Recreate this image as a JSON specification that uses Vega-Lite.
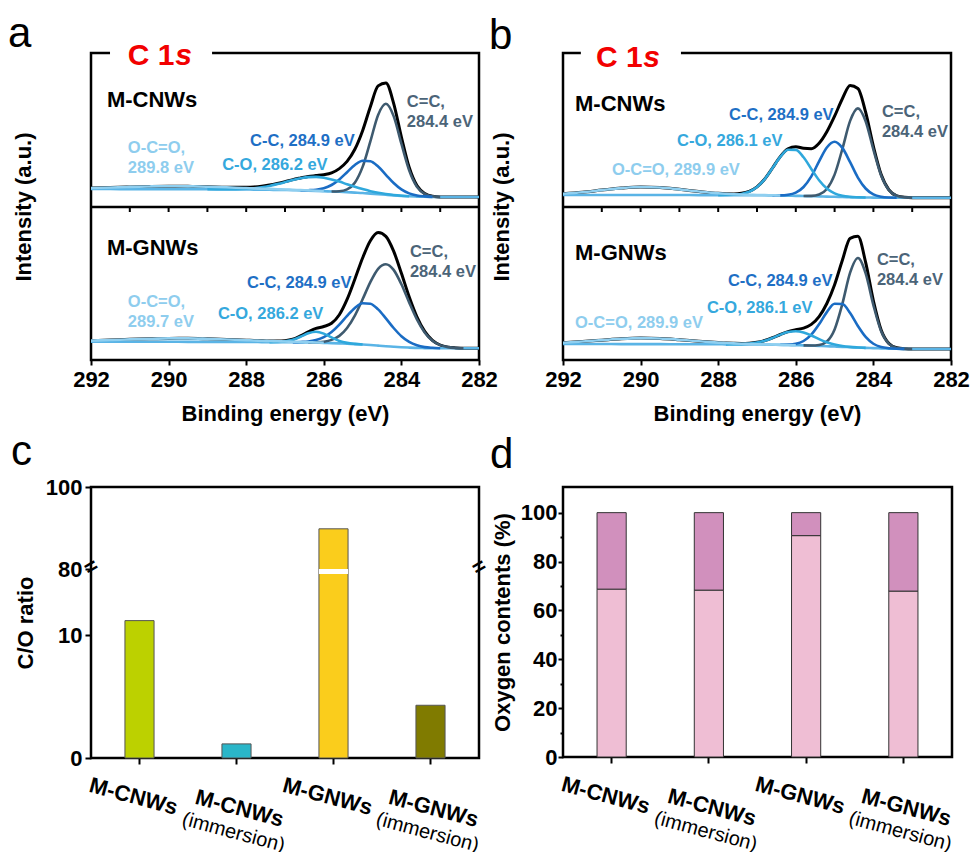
{
"$schema": "https://vega.github.io/schema/vega-lite/v6.json",
"padding": {"left": 6, "top": 11, "right": 4, "bottom": 4},
"background": "white",
"config": {
  "font": "Liberation Sans",
  "view": {"stroke": "black", "strokeWidth": 2.5},
  "axis": {"grid": false, "domain": false, "labelColor": "black", "titleColor": "black", "tickColor": "black", "tickWidth": 2, "labelFontWeight": "bold", "labelFontSize": 22, "titleFontSize": 22, "titleFontWeight": "bold", "labelFont": "Liberation Sans", "titleFont": "Liberation Sans"},
  "title": {"font": "Liberation Sans", "fontSize": 42, "fontWeight": "normal", "anchor": "start", "frame": "group", "color": "black"},
  "text": {"font": "Liberation Sans"}
},
"datasets": {
  "a1": [
    {"e":282.0,"bg":10,"env":10},{"e":282.2,"bg":10,"env":10},{"e":282.4,"bg":10,"env":10},{"e":282.6,"bg":10,"env":10},{"e":282.8,"bg":10,"env":10},
    {"e":283.0,"bg":10,"env":10,"sp2":10},
    {"e":283.2,"bg":10.1,"env":10.7,"sp2":10.7,"sp3":10.1},
    {"e":283.4,"bg":10.2,"env":13.5,"sp2":13.1,"sp3":10.6},
    {"e":283.6,"bg":10.4,"env":21.4,"sp2":20.3,"sp3":11.5},
    {"e":283.8,"bg":10.7,"env":39.7,"sp2":36.8,"sp3":13.6,"co":10.8},
    {"e":284.0,"bg":11.1,"env":70.0,"sp2":63.3,"sp3":17.6,"co":11.3},
    {"e":284.2,"bg":11.6,"env":103.7,"sp2":90.9,"sp3":24.0,"co":12.0},
    {"e":284.4,"bg":12.2,"env":124.0,"sp2":103.2,"sp3":32.2,"co":13.0},
    {"e":284.6,"bg":12.8,"env":121.1,"sp2":92.1,"sp3":40.4,"co":14.2},
    {"e":284.8,"bg":13.4,"env":100.3,"sp2":65.6,"sp3":45.7,"co":15.8},
    {"e":285.0,"bg":14.0,"env":76.3,"sp2":40.1,"sp3":46.3,"co":17.9},
    {"e":285.2,"bg":14.4,"env":57.7,"sp2":24.3,"sp3":42.0,"co":20.2},
    {"e":285.4,"bg":14.8,"env":45.6,"sp2":17.7,"sp3":34.8,"co":22.7},
    {"e":285.6,"bg":15.2,"env":38.4,"sp2":15.8,"sp3":27.6,"co":25.4},
    {"e":285.8,"bg":15.5,"env":34.1,"sp2":15.5,"sp3":22.0,"co":27.6},
    {"e":286.0,"bg":15.8,"env":32.3,"sp3":18.7,"co":29.3,"occo":15.9},
    {"e":286.2,"bg":16.1,"env":31.4,"sp3":17.2,"co":30.1,"occo":16.3},
    {"e":286.4,"bg":16.4,"env":30.5,"sp3":16.8,"co":29.9,"occo":16.6},
    {"e":286.6,"bg":16.6,"env":29.0,"sp3":16.6,"co":28.7,"occo":16.9},
    {"e":286.8,"bg":16.8,"env":27.4,"co":27.0,"occo":17.2},
    {"e":287.0,"bg":17.0,"env":25.4,"co":24.9,"occo":17.5},
    {"e":287.2,"bg":17.1,"env":23.6,"co":22.9,"occo":17.8},
    {"e":287.4,"bg":17.2,"env":22.0,"co":21.1,"occo":18.1},
    {"e":287.6,"bg":17.3,"env":20.7,"co":19.7,"occo":18.3},
    {"e":287.8,"bg":17.4,"env":20.0,"co":18.8,"occo":18.6},
    {"e":288.0,"bg":17.5,"env":19.8,"co":18.3,"occo":19.0},
    {"e":288.5,"bg":17.6,"env":19.8,"co":17.7,"occo":19.7},
    {"e":289.0,"bg":17.7,"env":20.3,"co":17.7,"occo":20.3},
    {"e":289.5,"bg":17.75,"env":20.65,"occo":20.65},
    {"e":290.0,"bg":17.8,"env":20.8,"occo":20.8},
    {"e":290.5,"bg":17.85,"env":20.55,"occo":20.55},
    {"e":291.0,"bg":17.9,"env":20.1,"occo":20.1},
    {"e":291.5,"bg":17.95,"env":19.55,"occo":19.55},
    {"e":292.0,"bg":18.0,"env":19.0,"occo":19.0}
  ],
  "a2": [
    {"e":282.0,"bg":11.7,"env":11.7},{"e":282.2,"bg":11.7,"env":11.7},
    {"e":282.4,"bg":11.7,"env":11.7,"sp2":11.7},
    {"e":282.6,"bg":11.7,"env":12.1,"sp2":12.1},
    {"e":282.8,"bg":11.7,"env":12.9,"sp2":12.9},
    {"e":283.0,"bg":11.7,"env":15.0,"sp2":14.9,"sp3":11.8},
    {"e":283.2,"bg":11.8,"env":19.7,"sp2":19.3,"sp3":12.2},
    {"e":283.4,"bg":11.9,"env":28.6,"sp2":27.6,"sp3":12.9},
    {"e":283.6,"bg":12.1,"env":43.2,"sp2":40.6,"sp3":14.7},
    {"e":283.8,"bg":12.4,"env":63.3,"sp2":57.6,"sp3":18.1},
    {"e":284.0,"bg":12.8,"env":86.7,"sp2":75.7,"sp3":23.8},
    {"e":284.2,"bg":13.3,"env":108.8,"sp2":90.1,"sp3":32.0},
    {"e":284.4,"bg":13.8,"env":123.6,"sp2":95.8,"sp3":41.6},
    {"e":284.6,"bg":14.4,"env":127.4,"sp2":91.2,"sp3":50.6},
    {"e":284.8,"bg":15.0,"env":119.2,"sp2":77.9,"sp3":56.3},
    {"e":285.0,"bg":15.5,"env":102.0,"sp2":60.7,"sp3":56.8,"co":15.5},
    {"e":285.2,"bg":15.9,"env":80.8,"sp2":44.4,"sp3":52.1,"co":16.1},
    {"e":285.4,"bg":16.3,"env":60.6,"sp2":32.0,"sp3":44.1,"co":17.1},
    {"e":285.6,"bg":16.6,"env":45.3,"sp2":24.1,"sp3":35.3,"co":19.1},
    {"e":285.8,"bg":16.9,"env":36.8,"sp2":20.1,"sp3":27.9,"co":22.6},
    {"e":286.0,"bg":17.1,"env":33.5,"sp2":18.3,"sp3":22.8,"co":26.4,"occo":17.3},
    {"e":286.2,"bg":17.3,"env":31.55,"sp2":17.7,"sp3":19.9,"co":28.3,"occo":17.55},
    {"e":286.4,"bg":17.45,"env":28.05,"sp2":17.45,"sp3":18.45,"co":26.75,"occo":17.75},
    {"e":286.6,"bg":17.6,"env":24.1,"sp3":18.0,"co":23.3,"occo":18.0},
    {"e":286.8,"bg":17.7,"env":20.75,"sp3":17.7,"co":20.2,"occo":18.25},
    {"e":287.0,"bg":17.8,"env":19.3,"co":18.6,"occo":18.5},
    {"e":287.2,"bg":17.84,"env":18.94,"co":18.04,"occo":18.74},
    {"e":287.4,"bg":17.88,"env":18.98,"co":17.88,"occo":18.98},
    {"e":287.6,"bg":17.92,"env":19.22,"occo":19.22},
    {"e":287.8,"bg":17.96,"env":19.56,"occo":19.56},
    {"e":288.0,"bg":18.0,"env":19.8,"occo":19.8},
    {"e":288.5,"bg":18.05,"env":20.55,"occo":20.55},
    {"e":289.0,"bg":18.1,"env":21.2,"occo":21.2},
    {"e":289.5,"bg":18.15,"env":21.65,"occo":21.65},
    {"e":290.0,"bg":18.2,"env":21.6,"occo":21.6},
    {"e":290.5,"bg":18.22,"env":21.22,"occo":21.22},
    {"e":291.0,"bg":18.25,"env":20.65,"occo":20.65},
    {"e":291.5,"bg":18.27,"env":19.97,"occo":19.97},
    {"e":292.0,"bg":18.3,"env":19.4,"occo":19.4}
  ],
  "b1": [
    {"e":282.0,"bg":9.3,"env":9.3},{"e":282.2,"bg":9.3,"env":9.3},{"e":282.4,"bg":9.3,"env":9.3},{"e":282.6,"bg":9.3,"env":9.3},{"e":282.8,"bg":9.3,"env":9.3},
    {"e":283.0,"bg":9.3,"env":9.3,"sp2":9.3},
    {"e":283.2,"bg":9.3,"env":9.65,"sp2":9.65},
    {"e":283.4,"bg":9.3,"env":11.2,"sp2":11.2,"sp3":9.3},
    {"e":283.6,"bg":9.3,"env":17.1,"sp2":16.9,"sp3":9.5},
    {"e":283.8,"bg":9.35,"env":32.45,"sp2":31.55,"sp3":10.25},
    {"e":284.0,"bg":9.4,"env":60.6,"sp2":57.4,"sp3":12.6},
    {"e":284.2,"bg":9.5,"env":94.8,"sp2":85.8,"sp3":18.5,"co":9.5},
    {"e":284.4,"bg":9.65,"env":118.55,"sp2":98.65,"sp3":29.45,"co":9.75},
    {"e":284.6,"bg":9.8,"env":121.46,"sp2":86.1,"sp3":44.8,"co":10.16},
    {"e":284.8,"bg":10.0,"env":108.3,"sp2":58.0,"sp3":59.1,"co":11.2},
    {"e":285.0,"bg":10.2,"env":90.8,"sp2":32.4,"sp3":65.2,"co":13.6},
    {"e":285.2,"bg":10.4,"env":75.2,"sp2":18.0,"sp3":59.5,"co":18.5},
    {"e":285.4,"bg":10.6,"env":63.7,"sp2":12.5,"sp3":45.6,"co":26.8},
    {"e":285.6,"bg":10.8,"env":58.25,"sp2":11.15,"sp3":30.6,"co":38.1},
    {"e":285.8,"bg":11.0,"env":58.7,"sp2":11.0,"sp3":20.0,"co":49.7},
    {"e":286.0,"bg":11.15,"env":60.35,"sp3":14.35,"co":57.15},
    {"e":286.2,"bg":11.3,"env":58.2,"sp3":12.2,"co":57.3},
    {"e":286.4,"bg":11.45,"env":50.4,"sp3":11.65,"co":50.15,"occo":11.5},
    {"e":286.6,"bg":11.6,"env":39.0,"sp3":11.6,"co":38.9,"occo":11.7},
    {"e":286.8,"bg":11.7,"env":28.05,"co":27.9,"occo":11.85},
    {"e":287.0,"bg":11.8,"env":20.15,"co":19.9,"occo":12.05},
    {"e":287.2,"bg":11.82,"env":15.62,"co":15.22,"occo":12.22},
    {"e":287.4,"bg":11.84,"env":13.64,"co":13.04,"occo":12.44},
    {"e":287.6,"bg":11.86,"env":13.12,"co":12.22,"occo":12.76},
    {"e":287.8,"bg":11.88,"env":13.28,"co":11.98,"occo":13.18},
    {"e":288.0,"bg":11.9,"env":13.7,"co":11.9,"occo":13.7},
    {"e":288.5,"bg":11.92,"env":15.52,"occo":15.52},
    {"e":289.0,"bg":11.94,"env":17.64,"occo":17.64},
    {"e":289.5,"bg":11.96,"env":19.46,"occo":19.46},
    {"e":290.0,"bg":11.97,"env":19.97,"occo":19.97},
    {"e":290.5,"bg":11.98,"env":18.88,"occo":18.88},
    {"e":291.0,"bg":11.99,"env":16.89,"occo":16.89},
    {"e":291.5,"bg":12.0,"env":14.8,"occo":14.8},
    {"e":292.0,"bg":12.0,"env":13.3,"occo":13.3}
  ],
  "b2": [
    {"e":282.0,"bg":11,"env":11},{"e":282.2,"bg":11,"env":11},{"e":282.4,"bg":11,"env":11},{"e":282.6,"bg":11,"env":11},{"e":282.8,"bg":11,"env":11},
    {"e":283.0,"bg":11.0,"env":11.0,"sp2":11.0},
    {"e":283.2,"bg":11.1,"env":11.2,"sp2":11.2,"sp3":11.1},
    {"e":283.4,"bg":11.2,"env":12.17,"sp2":12.1,"sp3":11.27},
    {"e":283.6,"bg":11.4,"env":16.5,"sp2":16.1,"sp3":11.8},
    {"e":283.8,"bg":11.6,"env":30.1,"sp2":28.7,"sp3":13.0},
    {"e":284.0,"bg":11.85,"env":59.25,"sp2":54.85,"sp3":16.25},
    {"e":284.2,"bg":12.1,"env":97.6,"sp2":86.6,"sp3":23.1,"co":12.1},
    {"e":284.4,"bg":12.45,"env":123.65,"sp2":101.95,"sp3":34.05,"co":12.55},
    {"e":284.6,"bg":12.8,"env":121.7,"sp2":87.3,"sp3":46.9,"co":13.1},
    {"e":284.8,"bg":13.15,"env":99.75,"sp2":56.15,"sp3":55.95,"co":13.95},
    {"e":285.0,"bg":13.5,"env":75.3,"sp2":30.6,"sp3":56.3,"co":15.4},
    {"e":285.2,"bg":13.8,"env":56.5,"sp2":18.5,"sp3":47.9,"co":17.7},
    {"e":285.4,"bg":14.1,"env":43.4,"sp2":15.0,"sp3":35.7,"co":20.9},
    {"e":285.6,"bg":14.35,"env":35.65,"sp2":14.45,"sp3":25.35,"co":24.55},
    {"e":285.8,"bg":14.6,"env":31.9,"sp2":14.6,"sp3":19.0,"co":27.5},
    {"e":286.0,"bg":14.8,"env":30.2,"sp3":16.2,"co":28.8,"occo":14.8},
    {"e":286.2,"bg":15.0,"env":28.35,"sp3":15.4,"co":27.9,"occo":15.05},
    {"e":286.4,"bg":15.15,"env":25.5,"sp3":15.2,"co":25.35,"occo":15.25},
    {"e":286.6,"bg":15.3,"env":22.25,"co":22.1,"occo":15.45},
    {"e":286.8,"bg":15.4,"env":19.5,"co":19.3,"occo":15.6},
    {"e":287.0,"bg":15.5,"env":17.7,"co":17.4,"occo":15.8},
    {"e":287.2,"bg":15.54,"env":16.84,"co":16.34,"occo":16.04},
    {"e":287.4,"bg":15.58,"env":16.58,"co":15.88,"occo":16.28},
    {"e":287.6,"bg":15.62,"env":16.72,"co":15.72,"occo":16.62},
    {"e":287.8,"bg":15.66,"env":16.96,"co":15.66,"occo":16.96},
    {"e":288.0,"bg":15.7,"env":17.4,"occo":17.4},
    {"e":288.5,"bg":15.75,"env":18.75,"occo":18.75},
    {"e":289.0,"bg":15.8,"env":20.3,"occo":20.3},
    {"e":289.5,"bg":15.85,"env":21.55,"occo":21.55},
    {"e":290.0,"bg":15.9,"env":21.9,"occo":21.9},
    {"e":290.5,"bg":15.92,"env":21.22,"occo":21.22},
    {"e":291.0,"bg":15.95,"env":19.85,"occo":19.85},
    {"e":291.5,"bg":15.97,"env":18.47,"occo":18.47},
    {"e":292.0,"bg":16.0,"env":17.3,"occo":17.3}
  ],
  "ticks": [{"t":282},{"t":283},{"t":284},{"t":285},{"t":286},{"t":287},{"t":288},{"t":289},{"t":290},{"t":291},{"t":292}],
  "c": [
    {"s":"M-CNWs","r":11.2},
    {"s":"M-CNWs (immersion)","r":1.15},
    {"s":"M-GNWs","r":89.8},
    {"s":"M-GNWs (immersion)","r":4.3}
  ],
  "d": [
    {"s":"M-CNWs","part":"lower","v":68.7},{"s":"M-CNWs","part":"upper","v":31.3},
    {"s":"M-CNWs (immersion)","part":"lower","v":68.3},{"s":"M-CNWs (immersion)","part":"upper","v":31.7},
    {"s":"M-GNWs","part":"lower","v":90.6},{"s":"M-GNWs","part":"upper","v":9.4},
    {"s":"M-GNWs (immersion)","part":"lower","v":67.9},{"s":"M-GNWs (immersion)","part":"upper","v":32.1}
  ]
},
"concat": [
  {
    "width": 388, "height": 307,
    "title": {"text": "a", "dx": -83, "dy": 15, "offset": 0},
    "layer": [
      {"data": {"name": "a1"}, "transform": [{"fold": ["env","bg","sp2","sp3","co","occo"], "as": ["k","v"]}, {"filter": "isValid(datum.v) && datum.k == 'env'"}], "mark": {"type": "line", "color": "#000000", "strokeWidth": 3, "interpolate": "monotone"},
       "encoding": {"x": {"field": "e", "type": "quantitative", "scale": {"domain": [282, 292], "reverse": true, "nice": false, "zero": false}, "axis": {"orient": "bottom", "values": [282,283,284,285,286,287,288,289,290,291,292], "labelExpr": "datum.value % 2 === 0 ? datum.label : ''", "tickSize": 5, "tickWidth": 2, "domain": false, "grid": false, "labelPadding": 4, "labelFlush": false, "labelOverlap": false, "labelBound": false, "title": "Binding energy (eV)", "titlePadding": 13}},
                    "y": {"field": "v", "type": "quantitative", "scale": {"domain": [-153, 154], "nice": false, "zero": false}, "axis": {"orient": "left", "title": "Intensity (a.u.)", "labels": false, "ticks": false, "domain": false, "grid": false, "titlePadding": 56}}}},
      {"data": {"name": "a1"}, "transform": [{"fold": ["env","bg","sp2","sp3","co","occo"], "as": ["k","v"]}, {"filter": "isValid(datum.v) && datum.k == 'bg'"}], "mark": {"type": "line", "color": "#5ab4e6", "strokeWidth": 2.6, "interpolate": "monotone"},
       "encoding": {"x": {"field": "e", "type": "quantitative"}, "y": {"field": "v", "type": "quantitative", "scale": {"domain": [-153, 154], "nice": false, "zero": false}, "axis": {"orient": "left", "labels": false, "ticks": false, "domain": false, "grid": false, "title": null}}}},
      {"data": {"name": "a1"}, "transform": [{"fold": ["env","bg","sp2","sp3","co","occo"], "as": ["k","v"]}, {"filter": "isValid(datum.v) && datum.k != 'env' && datum.k != 'bg'"}], "mark": {"type": "line", "strokeWidth": 2.6, "interpolate": "monotone"},
       "encoding": {"x": {"field": "e", "type": "quantitative"}, "y": {"field": "v", "type": "quantitative", "scale": {"domain": [-153, 154], "nice": false, "zero": false}, "axis": {"orient": "left", "labels": false, "ticks": false, "domain": false, "grid": false, "title": null}}, "color": {"field": "k", "type": "nominal", "scale": {"domain": ["occo","co","sp3","sp2"], "range": ["#8fcff0","#2fa8dc","#1a6cc4","#3e5a6f"]}, "legend": null}}},
      {"data": {"name": "a2"}, "transform": [{"fold": ["env","bg","sp2","sp3","co","occo"], "as": ["k","v"]}, {"filter": "isValid(datum.v) && datum.k == 'env'"}], "mark": {"type": "line", "color": "#000000", "strokeWidth": 3, "interpolate": "monotone"},
       "encoding": {"x": {"field": "e", "type": "quantitative"}, "y": {"field": "v", "type": "quantitative", "scale": {"domain": [0, 307], "nice": false, "zero": false}, "axis": {"orient": "left", "labels": false, "ticks": false, "domain": false, "grid": false, "title": null}}}},
      {"data": {"name": "a2"}, "transform": [{"fold": ["env","bg","sp2","sp3","co","occo"], "as": ["k","v"]}, {"filter": "isValid(datum.v) && datum.k == 'bg'"}], "mark": {"type": "line", "color": "#5ab4e6", "strokeWidth": 2.6, "interpolate": "monotone"},
       "encoding": {"x": {"field": "e", "type": "quantitative"}, "y": {"field": "v", "type": "quantitative", "scale": {"domain": [0, 307], "nice": false, "zero": false}, "axis": {"orient": "left", "labels": false, "ticks": false, "domain": false, "grid": false, "title": null}}}},
      {"data": {"name": "a2"}, "transform": [{"fold": ["env","bg","sp2","sp3","co","occo"], "as": ["k","v"]}, {"filter": "isValid(datum.v) && datum.k != 'env' && datum.k != 'bg'"}], "mark": {"type": "line", "strokeWidth": 2.6, "interpolate": "monotone"},
       "encoding": {"x": {"field": "e", "type": "quantitative"}, "y": {"field": "v", "type": "quantitative", "scale": {"domain": [0, 307], "nice": false, "zero": false}, "axis": {"orient": "left", "labels": false, "ticks": false, "domain": false, "grid": false, "title": null}}, "color": {"field": "k", "type": "nominal", "scale": {"domain": ["occo","co","sp3","sp2"], "range": ["#8fcff0","#2fa8dc","#1a6cc4","#3e5a6f"]}, "legend": null}}},
      {"data": {"values": [{}]}, "mark": {"type": "rule", "color": "#000000", "strokeWidth": 2.5}, "encoding": {"x": {"datum": 292}, "x2": {"datum": 282}, "y": {"datum": 0, "scale": {"domain": [-153, 154], "nice": false, "zero": false}, "axis": {"orient": "left", "labels": false, "ticks": false, "domain": false, "grid": false, "title": null}}}},
      {"data": {"name": "ticks"}, "mark": {"type": "rule", "color": "#000000", "strokeWidth": 2}, "encoding": {"x": {"field": "t", "type": "quantitative"}, "y": {"datum": 0, "scale": {"domain": [-153, 154], "nice": false, "zero": false}, "axis": {"orient": "left", "labels": false, "ticks": false, "domain": false, "grid": false, "title": null}}, "y2": {"datum": -5}}},
      {"data": {"values": [{}]}, "mark": {"type": "text", "text": "M-CNWs", "fontSize": 22, "fontWeight": "bold", "align": "left", "baseline": "middle", "color": "#000000"}, "encoding": {"x": {"datum": 291.59}, "y": {"datum": 107, "scale": {"domain": [-153, 154], "nice": false, "zero": false}, "axis": {"orient": "left", "labels": false, "ticks": false, "domain": false, "grid": false, "title": null}}}},
      {"data": {"values": [{}]}, "mark": {"type": "text", "text": ["C=C,", "284.4 eV"], "lineHeight": 20, "fontSize": 16.5, "fontWeight": "bold", "align": "left", "baseline": "middle", "color": "#4b6478"}, "encoding": {"x": {"datum": 283.86}, "y": {"datum": 105, "scale": {"domain": [-153, 154], "nice": false, "zero": false}, "axis": {"orient": "left", "labels": false, "ticks": false, "domain": false, "grid": false, "title": null}}}},
      {"data": {"values": [{}]}, "mark": {"type": "text", "text": "C-C, 284.9 eV", "fontSize": 16.5, "fontWeight": "bold", "align": "left", "baseline": "middle", "color": "#1e6fc5"}, "encoding": {"x": {"datum": 287.9}, "y": {"datum": 66, "scale": {"domain": [-153, 154], "nice": false, "zero": false}, "axis": {"orient": "left", "labels": false, "ticks": false, "domain": false, "grid": false, "title": null}}}},
      {"data": {"values": [{}]}, "mark": {"type": "text", "text": "C-O, 286.2 eV", "fontSize": 16.5, "fontWeight": "bold", "align": "left", "baseline": "middle", "color": "#35a8dd"}, "encoding": {"x": {"datum": 288.62}, "y": {"datum": 42, "scale": {"domain": [-153, 154], "nice": false, "zero": false}, "axis": {"orient": "left", "labels": false, "ticks": false, "domain": false, "grid": false, "title": null}}}},
      {"data": {"values": [{}]}, "mark": {"type": "text", "text": ["O-C=O,", "289.8 eV"], "lineHeight": 20, "fontSize": 16.5, "fontWeight": "bold", "align": "left", "baseline": "middle", "color": "#8ecdee"}, "encoding": {"x": {"datum": 291.05}, "y": {"datum": 59, "scale": {"domain": [-153, 154], "nice": false, "zero": false}, "axis": {"orient": "left", "labels": false, "ticks": false, "domain": false, "grid": false, "title": null}}}},
      {"data": {"values": [{}]}, "mark": {"type": "rect", "fill": "white"}, "encoding": {"x": {"datum": 291.51}, "x2": {"datum": 288.88}, "y": {"datum": 150, "scale": {"domain": [-153, 154], "nice": false, "zero": false}, "axis": {"orient": "left", "labels": false, "ticks": false, "domain": false, "grid": false, "title": null}}, "y2": {"datum": 158}}},
      {"data": {"values": [{}]}, "mark": {"type": "text", "text": "C 1", "fontSize": 30, "fontWeight": "bold", "align": "left", "baseline": "alphabetic", "color": "#f20000"}, "encoding": {"x": {"datum": 291.05}, "y": {"datum": 142, "scale": {"domain": [-153, 154], "nice": false, "zero": false}, "axis": {"orient": "left", "labels": false, "ticks": false, "domain": false, "grid": false, "title": null}}}},
      {"data": {"values": [{}]}, "mark": {"type": "text", "text": "s", "fontSize": 30, "fontWeight": "bold", "fontStyle": "italic", "align": "left", "baseline": "alphabetic", "color": "#f20000"}, "encoding": {"x": {"datum": 289.83}, "y": {"datum": 142, "scale": {"domain": [-153, 154], "nice": false, "zero": false}, "axis": {"orient": "left", "labels": false, "ticks": false, "domain": false, "grid": false, "title": null}}}},
      {"data": {"values": [{}]}, "mark": {"type": "text", "text": "M-GNWs", "fontSize": 22, "fontWeight": "bold", "align": "left", "baseline": "middle", "color": "#000000"}, "encoding": {"x": {"datum": 291.59}, "y": {"datum": 112, "scale": {"domain": [0, 307], "nice": false, "zero": false}, "axis": {"orient": "left", "labels": false, "ticks": false, "domain": false, "grid": false, "title": null}}}},
      {"data": {"values": [{}]}, "mark": {"type": "text", "text": ["C=C,", "284.4 eV"], "lineHeight": 20, "fontSize": 16.5, "fontWeight": "bold", "align": "left", "baseline": "middle", "color": "#4b6478"}, "encoding": {"x": {"datum": 283.78}, "y": {"datum": 108, "scale": {"domain": [0, 307], "nice": false, "zero": false}, "axis": {"orient": "left", "labels": false, "ticks": false, "domain": false, "grid": false, "title": null}}}},
      {"data": {"values": [{}]}, "mark": {"type": "text", "text": "C-C, 284.9 eV", "fontSize": 16.5, "fontWeight": "bold", "align": "left", "baseline": "middle", "color": "#1e6fc5"}, "encoding": {"x": {"datum": 287.98}, "y": {"datum": 77, "scale": {"domain": [0, 307], "nice": false, "zero": false}, "axis": {"orient": "left", "labels": false, "ticks": false, "domain": false, "grid": false, "title": null}}}},
      {"data": {"values": [{}]}, "mark": {"type": "text", "text": "C-O, 286.2 eV", "fontSize": 16.5, "fontWeight": "bold", "align": "left", "baseline": "middle", "color": "#35a8dd"}, "encoding": {"x": {"datum": 288.73}, "y": {"datum": 46, "scale": {"domain": [0, 307], "nice": false, "zero": false}, "axis": {"orient": "left", "labels": false, "ticks": false, "domain": false, "grid": false, "title": null}}}},
      {"data": {"values": [{}]}, "mark": {"type": "text", "text": ["O-C=O,", "289.7 eV"], "lineHeight": 20, "fontSize": 16.5, "fontWeight": "bold", "align": "left", "baseline": "middle", "color": "#8ecdee"}, "encoding": {"x": {"datum": 291.05}, "y": {"datum": 58, "scale": {"domain": [0, 307], "nice": false, "zero": false}, "axis": {"orient": "left", "labels": false, "ticks": false, "domain": false, "grid": false, "title": null}}}}
    ],
    "resolve": {"scale": {"y": "independent"}, "axis": {"y": "independent"}}
  },
  {
    "width": 388, "height": 307,
    "title": {"text": "b", "dx": -74, "dy": 15, "offset": 0},
    "layer": [
      {"data": {"name": "b1"}, "transform": [{"fold": ["env","bg","sp2","sp3","co","occo"], "as": ["k","v"]}, {"filter": "isValid(datum.v) && datum.k == 'env'"}], "mark": {"type": "line", "color": "#000000", "strokeWidth": 3, "interpolate": "monotone"},
       "encoding": {"x": {"field": "e", "type": "quantitative", "scale": {"domain": [282, 292], "reverse": true, "nice": false, "zero": false}, "axis": {"orient": "bottom", "values": [282,283,284,285,286,287,288,289,290,291,292], "labelExpr": "datum.value % 2 === 0 ? datum.label : ''", "tickSize": 5, "tickWidth": 2, "domain": false, "grid": false, "labelPadding": 4, "labelFlush": false, "labelOverlap": false, "labelBound": false, "title": "Binding energy (eV)", "titlePadding": 13}},
                    "y": {"field": "v", "type": "quantitative", "scale": {"domain": [-153, 154], "nice": false, "zero": false}, "axis": {"orient": "left", "title": "Intensity (a.u.)", "labels": false, "ticks": false, "domain": false, "grid": false, "titlePadding": 50}}}},
      {"data": {"name": "b1"}, "transform": [{"fold": ["env","bg","sp2","sp3","co","occo"], "as": ["k","v"]}, {"filter": "isValid(datum.v) && datum.k == 'bg'"}], "mark": {"type": "line", "color": "#5ab4e6", "strokeWidth": 2.6, "interpolate": "monotone"},
       "encoding": {"x": {"field": "e", "type": "quantitative"}, "y": {"field": "v", "type": "quantitative", "scale": {"domain": [-153, 154], "nice": false, "zero": false}, "axis": {"orient": "left", "labels": false, "ticks": false, "domain": false, "grid": false, "title": null}}}},
      {"data": {"name": "b1"}, "transform": [{"fold": ["env","bg","sp2","sp3","co","occo"], "as": ["k","v"]}, {"filter": "isValid(datum.v) && datum.k != 'env' && datum.k != 'bg'"}], "mark": {"type": "line", "strokeWidth": 2.6, "interpolate": "monotone"},
       "encoding": {"x": {"field": "e", "type": "quantitative"}, "y": {"field": "v", "type": "quantitative", "scale": {"domain": [-153, 154], "nice": false, "zero": false}, "axis": {"orient": "left", "labels": false, "ticks": false, "domain": false, "grid": false, "title": null}}, "color": {"field": "k", "type": "nominal", "scale": {"domain": ["occo","co","sp3","sp2"], "range": ["#8fcff0","#2fa8dc","#1a6cc4","#3e5a6f"]}, "legend": null}}},
      {"data": {"name": "b2"}, "transform": [{"fold": ["env","bg","sp2","sp3","co","occo"], "as": ["k","v"]}, {"filter": "isValid(datum.v) && datum.k == 'env'"}], "mark": {"type": "line", "color": "#000000", "strokeWidth": 3, "interpolate": "monotone"},
       "encoding": {"x": {"field": "e", "type": "quantitative"}, "y": {"field": "v", "type": "quantitative", "scale": {"domain": [0, 307], "nice": false, "zero": false}, "axis": {"orient": "left", "labels": false, "ticks": false, "domain": false, "grid": false, "title": null}}}},
      {"data": {"name": "b2"}, "transform": [{"fold": ["env","bg","sp2","sp3","co","occo"], "as": ["k","v"]}, {"filter": "isValid(datum.v) && datum.k == 'bg'"}], "mark": {"type": "line", "color": "#5ab4e6", "strokeWidth": 2.6, "interpolate": "monotone"},
       "encoding": {"x": {"field": "e", "type": "quantitative"}, "y": {"field": "v", "type": "quantitative", "scale": {"domain": [0, 307], "nice": false, "zero": false}, "axis": {"orient": "left", "labels": false, "ticks": false, "domain": false, "grid": false, "title": null}}}},
      {"data": {"name": "b2"}, "transform": [{"fold": ["env","bg","sp2","sp3","co","occo"], "as": ["k","v"]}, {"filter": "isValid(datum.v) && datum.k != 'env' && datum.k != 'bg'"}], "mark": {"type": "line", "strokeWidth": 2.6, "interpolate": "monotone"},
       "encoding": {"x": {"field": "e", "type": "quantitative"}, "y": {"field": "v", "type": "quantitative", "scale": {"domain": [0, 307], "nice": false, "zero": false}, "axis": {"orient": "left", "labels": false, "ticks": false, "domain": false, "grid": false, "title": null}}, "color": {"field": "k", "type": "nominal", "scale": {"domain": ["occo","co","sp3","sp2"], "range": ["#8fcff0","#2fa8dc","#1a6cc4","#3e5a6f"]}, "legend": null}}},
      {"data": {"values": [{}]}, "mark": {"type": "rule", "color": "#000000", "strokeWidth": 2.5}, "encoding": {"x": {"datum": 292}, "x2": {"datum": 282}, "y": {"datum": 0, "scale": {"domain": [-153, 154], "nice": false, "zero": false}, "axis": {"orient": "left", "labels": false, "ticks": false, "domain": false, "grid": false, "title": null}}}},
      {"data": {"name": "ticks"}, "mark": {"type": "rule", "color": "#000000", "strokeWidth": 2}, "encoding": {"x": {"field": "t", "type": "quantitative"}, "y": {"datum": 0, "scale": {"domain": [-153, 154], "nice": false, "zero": false}, "axis": {"orient": "left", "labels": false, "ticks": false, "domain": false, "grid": false, "title": null}}, "y2": {"datum": -5}}},
      {"data": {"values": [{}]}, "mark": {"type": "text", "text": "M-CNWs", "fontSize": 22, "fontWeight": "bold", "align": "left", "baseline": "middle", "color": "#000000"}, "encoding": {"x": {"datum": 291.69}, "y": {"datum": 103, "scale": {"domain": [-153, 154], "nice": false, "zero": false}, "axis": {"orient": "left", "labels": false, "ticks": false, "domain": false, "grid": false, "title": null}}}},
      {"data": {"values": [{}]}, "mark": {"type": "text", "text": ["C=C,", "284.4 eV"], "lineHeight": 20, "fontSize": 16.5, "fontWeight": "bold", "align": "left", "baseline": "middle", "color": "#4b6478"}, "encoding": {"x": {"datum": 283.78}, "y": {"datum": 95, "scale": {"domain": [-153, 154], "nice": false, "zero": false}, "axis": {"orient": "left", "labels": false, "ticks": false, "domain": false, "grid": false, "title": null}}}},
      {"data": {"values": [{}]}, "mark": {"type": "text", "text": "C-C, 284.9 eV", "fontSize": 16.5, "fontWeight": "bold", "align": "left", "baseline": "middle", "color": "#1e6fc5"}, "encoding": {"x": {"datum": 287.72}, "y": {"datum": 92, "scale": {"domain": [-153, 154], "nice": false, "zero": false}, "axis": {"orient": "left", "labels": false, "ticks": false, "domain": false, "grid": false, "title": null}}}},
      {"data": {"values": [{}]}, "mark": {"type": "text", "text": "C-O, 286.1 eV", "fontSize": 16.5, "fontWeight": "bold", "align": "left", "baseline": "middle", "color": "#35a8dd"}, "encoding": {"x": {"datum": 289.06}, "y": {"datum": 66, "scale": {"domain": [-153, 154], "nice": false, "zero": false}, "axis": {"orient": "left", "labels": false, "ticks": false, "domain": false, "grid": false, "title": null}}}},
      {"data": {"values": [{}]}, "mark": {"type": "text", "text": "O-C=O, 289.9 eV", "fontSize": 16.5, "fontWeight": "bold", "align": "left", "baseline": "middle", "color": "#8ecdee"}, "encoding": {"x": {"datum": 290.74}, "y": {"datum": 37, "scale": {"domain": [-153, 154], "nice": false, "zero": false}, "axis": {"orient": "left", "labels": false, "ticks": false, "domain": false, "grid": false, "title": null}}}},
      {"data": {"values": [{}]}, "mark": {"type": "rect", "fill": "white"}, "encoding": {"x": {"datum": 291.54}, "x2": {"datum": 288.96}, "y": {"datum": 150, "scale": {"domain": [-153, 154], "nice": false, "zero": false}, "axis": {"orient": "left", "labels": false, "ticks": false, "domain": false, "grid": false, "title": null}}, "y2": {"datum": 158}}},
      {"data": {"values": [{}]}, "mark": {"type": "text", "text": "C 1", "fontSize": 30, "fontWeight": "bold", "align": "left", "baseline": "alphabetic", "color": "#f20000"}, "encoding": {"x": {"datum": 291.15}, "y": {"datum": 140, "scale": {"domain": [-153, 154], "nice": false, "zero": false}, "axis": {"orient": "left", "labels": false, "ticks": false, "domain": false, "grid": false, "title": null}}}},
      {"data": {"values": [{}]}, "mark": {"type": "text", "text": "s", "fontSize": 30, "fontWeight": "bold", "fontStyle": "italic", "align": "left", "baseline": "alphabetic", "color": "#f20000"}, "encoding": {"x": {"datum": 289.93}, "y": {"datum": 140, "scale": {"domain": [-153, 154], "nice": false, "zero": false}, "axis": {"orient": "left", "labels": false, "ticks": false, "domain": false, "grid": false, "title": null}}}},
      {"data": {"values": [{}]}, "mark": {"type": "text", "text": "M-GNWs", "fontSize": 22, "fontWeight": "bold", "align": "left", "baseline": "middle", "color": "#000000"}, "encoding": {"x": {"datum": 291.69}, "y": {"datum": 107, "scale": {"domain": [0, 307], "nice": false, "zero": false}, "axis": {"orient": "left", "labels": false, "ticks": false, "domain": false, "grid": false, "title": null}}}},
      {"data": {"values": [{}]}, "mark": {"type": "text", "text": ["C=C,", "284.4 eV"], "lineHeight": 20, "fontSize": 16.5, "fontWeight": "bold", "align": "left", "baseline": "middle", "color": "#4b6478"}, "encoding": {"x": {"datum": 283.91}, "y": {"datum": 100, "scale": {"domain": [0, 307], "nice": false, "zero": false}, "axis": {"orient": "left", "labels": false, "ticks": false, "domain": false, "grid": false, "title": null}}}},
      {"data": {"values": [{}]}, "mark": {"type": "text", "text": "C-C, 284.9 eV", "fontSize": 16.5, "fontWeight": "bold", "align": "left", "baseline": "middle", "color": "#1e6fc5"}, "encoding": {"x": {"datum": 287.75}, "y": {"datum": 79, "scale": {"domain": [0, 307], "nice": false, "zero": false}, "axis": {"orient": "left", "labels": false, "ticks": false, "domain": false, "grid": false, "title": null}}}},
      {"data": {"values": [{}]}, "mark": {"type": "text", "text": "C-O, 286.1 eV", "fontSize": 16.5, "fontWeight": "bold", "align": "left", "baseline": "middle", "color": "#35a8dd"}, "encoding": {"x": {"datum": 288.29}, "y": {"datum": 52, "scale": {"domain": [0, 307], "nice": false, "zero": false}, "axis": {"orient": "left", "labels": false, "ticks": false, "domain": false, "grid": false, "title": null}}}},
      {"data": {"values": [{}]}, "mark": {"type": "text", "text": "O-C=O, 289.9 eV", "fontSize": 16.5, "fontWeight": "bold", "align": "left", "baseline": "middle", "color": "#8ecdee"}, "encoding": {"x": {"datum": 291.69}, "y": {"datum": 37, "scale": {"domain": [0, 307], "nice": false, "zero": false}, "axis": {"orient": "left", "labels": false, "ticks": false, "domain": false, "grid": false, "title": null}}}}
    ],
    "resolve": {"scale": {"y": "independent"}, "axis": {"y": "independent"}}
  },
  {
    "width": 388, "height": 271,
    "title": {"text": "c", "dx": -80, "offset": 2},
    "data": {"name": "c"},
    "layer": [
      {
        "mark": {"type": "bar", "stroke": "#555555", "strokeWidth": 1},
        "encoding": {
          "x": {"field": "s", "type": "nominal", "sort": ["M-CNWs","M-CNWs (immersion)","M-GNWs","M-GNWs (immersion)"], "scale": {"paddingInner": 0.7, "paddingOuter": 0.35}, "axis": {"orient": "bottom", "title": null, "labelExpr": "indexof(datum.value, 'immersion') >= 0 ? '' : datum.label", "labelAngle": 15, "labelAlign": "center", "labelBaseline": "middle", "labelPadding": 32, "labelOffset": -6, "labelFontSize": 22, "labelFontWeight": "bold", "tickSize": 6, "tickWidth": 2, "domain": false, "labelOverlap": false, "labelBound": false, "labelLimit": 0}},
          "y": {"field": "r", "type": "quantitative", "scale": {"domain": [0, 15, 80, 100], "range": [271, 87, 82, 0], "nice": false, "zero": false}, "axis": {"values": [0, 10, 80, 100], "title": "C/O ratio", "tickSize": 6, "tickWidth": 2, "labelPadding": 3, "titlePadding": 8, "domain": false, "grid": false}},
          "fill": {"field": "s", "type": "nominal", "scale": {"domain": ["M-CNWs","M-CNWs (immersion)","M-GNWs","M-GNWs (immersion)"], "range": ["#bcd100","#2ab6c9","#facd1c","#807b00"]}, "legend": null}
        }
      },
      {
        "transform": [{"filter": "datum.s == 'M-GNWs'"}],
        "mark": {"type": "rect", "fill": "white"},
        "encoding": {
          "x": {"field": "s", "type": "nominal", "sort": ["M-CNWs","M-CNWs (immersion)","M-GNWs","M-GNWs (immersion)"], "axis": {"orient": "bottom", "title": null, "labelExpr": "indexof(datum.value, 'immersion') >= 0 ? replace(datum.label, ' (immersion)', '') : ''", "labelAngle": 15, "labelAlign": "center", "labelBaseline": "middle", "labelPadding": 50, "labelOffset": 3, "labelFontSize": 22, "labelFontWeight": "bold", "ticks": false, "tickSize": 0, "domain": false, "labelOverlap": false, "labelBound": false, "labelLimit": 0}},
          "y": {"datum": 15},
          "y2": {"datum": 80}
        }
      },
      {
        "mark": {"type": "text", "text": ""},
        "encoding": {
          "x": {"field": "s", "type": "nominal", "sort": ["M-CNWs","M-CNWs (immersion)","M-GNWs","M-GNWs (immersion)"], "axis": {"orient": "bottom", "title": null, "labelExpr": "indexof(datum.value, 'immersion') >= 0 ? '(immersion)' : ''", "labelAngle": 15, "labelAlign": "center", "labelBaseline": "middle", "labelPadding": 74, "labelOffset": -3, "labelFontSize": 20, "labelFontWeight": "normal", "ticks": false, "tickSize": 0, "domain": false, "labelOverlap": false, "labelBound": false, "labelLimit": 0}},
          "y": {"datum": 0}
        }
      },
      {"data": {"values": [{}]}, "mark": {"type": "text", "text": "=", "fontSize": 22, "fontWeight": "bold", "angle": -30, "align": "center", "baseline": "middle", "color": "#000000"}, "encoding": {"x": {"value": 0}, "y": {"datum": 80.5}}},
      {"data": {"values": [{}]}, "mark": {"type": "text", "text": "=", "fontSize": 22, "fontWeight": "bold", "angle": -30, "align": "center", "baseline": "middle", "color": "#000000"}, "encoding": {"x": {"value": "width"}, "y": {"datum": 80.5}}}
    ],
    "resolve": {"axis": {"x": "independent"}}
  },
  {
    "width": 389, "height": 270,
    "title": {"text": "d", "dx": -73, "offset": 10},
    "data": {"name": "d"},
    "layer": [
      {
        "mark": {"type": "bar", "stroke": "#333333", "strokeWidth": 1},
        "encoding": {
          "x": {"field": "s", "type": "nominal", "sort": ["M-CNWs","M-CNWs (immersion)","M-GNWs","M-GNWs (immersion)"], "scale": {"paddingInner": 0.7, "paddingOuter": 0.35}, "axis": {"orient": "bottom", "title": null, "labelExpr": "indexof(datum.value, 'immersion') >= 0 ? '' : datum.label", "labelAngle": 15, "labelAlign": "center", "labelBaseline": "middle", "labelPadding": 32, "labelOffset": -6, "labelFontSize": 22, "labelFontWeight": "bold", "tickSize": 6, "tickWidth": 2, "domain": false, "labelOverlap": false, "labelBound": false, "labelLimit": 0}},
          "y": {"field": "v", "type": "quantitative", "stack": "zero", "scale": {"domain": [0, 110.5], "nice": false, "zero": false}, "axis": {"orient": "left", "values": [0, 20, 40, 60, 80, 100], "title": "Oxygen contents (%)", "tickSize": 5, "tickWidth": 2, "labelPadding": 1, "titlePadding": 6, "domain": false, "grid": false}},
          "fill": {"field": "part", "type": "nominal", "scale": {"domain": ["lower","upper"], "range": ["#efbed4","#d190bd"]}, "legend": null},
          "order": {"field": "part", "sort": "ascending"}
        }
      },
      {
        "mark": {"type": "text", "text": ""},
        "encoding": {
          "x": {"field": "s", "type": "nominal", "sort": ["M-CNWs","M-CNWs (immersion)","M-GNWs","M-GNWs (immersion)"], "axis": {"orient": "bottom", "title": null, "labelExpr": "indexof(datum.value, 'immersion') >= 0 ? replace(datum.label, ' (immersion)', '') : ''", "labelAngle": 15, "labelAlign": "center", "labelBaseline": "middle", "labelPadding": 50, "labelOffset": 3, "labelFontSize": 22, "labelFontWeight": "bold", "ticks": false, "tickSize": 0, "domain": false, "labelOverlap": false, "labelBound": false, "labelLimit": 0}},
          "y": {"datum": 0, "axis": {"orient": "left", "values": [10, 30, 50, 70, 90], "labels": false, "ticks": true, "tickSize": 3, "tickWidth": 2, "domain": false, "grid": false, "title": null}}
        }
      },
      {
        "mark": {"type": "text", "text": ""},
        "encoding": {
          "x": {"field": "s", "type": "nominal", "sort": ["M-CNWs","M-CNWs (immersion)","M-GNWs","M-GNWs (immersion)"], "axis": {"orient": "bottom", "title": null, "labelExpr": "indexof(datum.value, 'immersion') >= 0 ? '(immersion)' : ''", "labelAngle": 15, "labelAlign": "center", "labelBaseline": "middle", "labelPadding": 74, "labelOffset": -3, "labelFontSize": 20, "labelFontWeight": "normal", "ticks": false, "tickSize": 0, "domain": false, "labelOverlap": false, "labelBound": false, "labelLimit": 0}},
          "y": {"datum": 0, "axis": {"orient": "left", "labels": false, "ticks": false, "domain": false, "grid": false, "title": null}}
        }
      }
    ],
    "resolve": {"axis": {"x": "independent", "y": "independent"}}
  }
],
"columns": 2,
"spacing": {"row": 127, "column": 84},
"bounds": "flush",
"resolve": {"scale": {"x": "independent", "y": "independent", "color": "independent", "fill": "independent"}}
}
